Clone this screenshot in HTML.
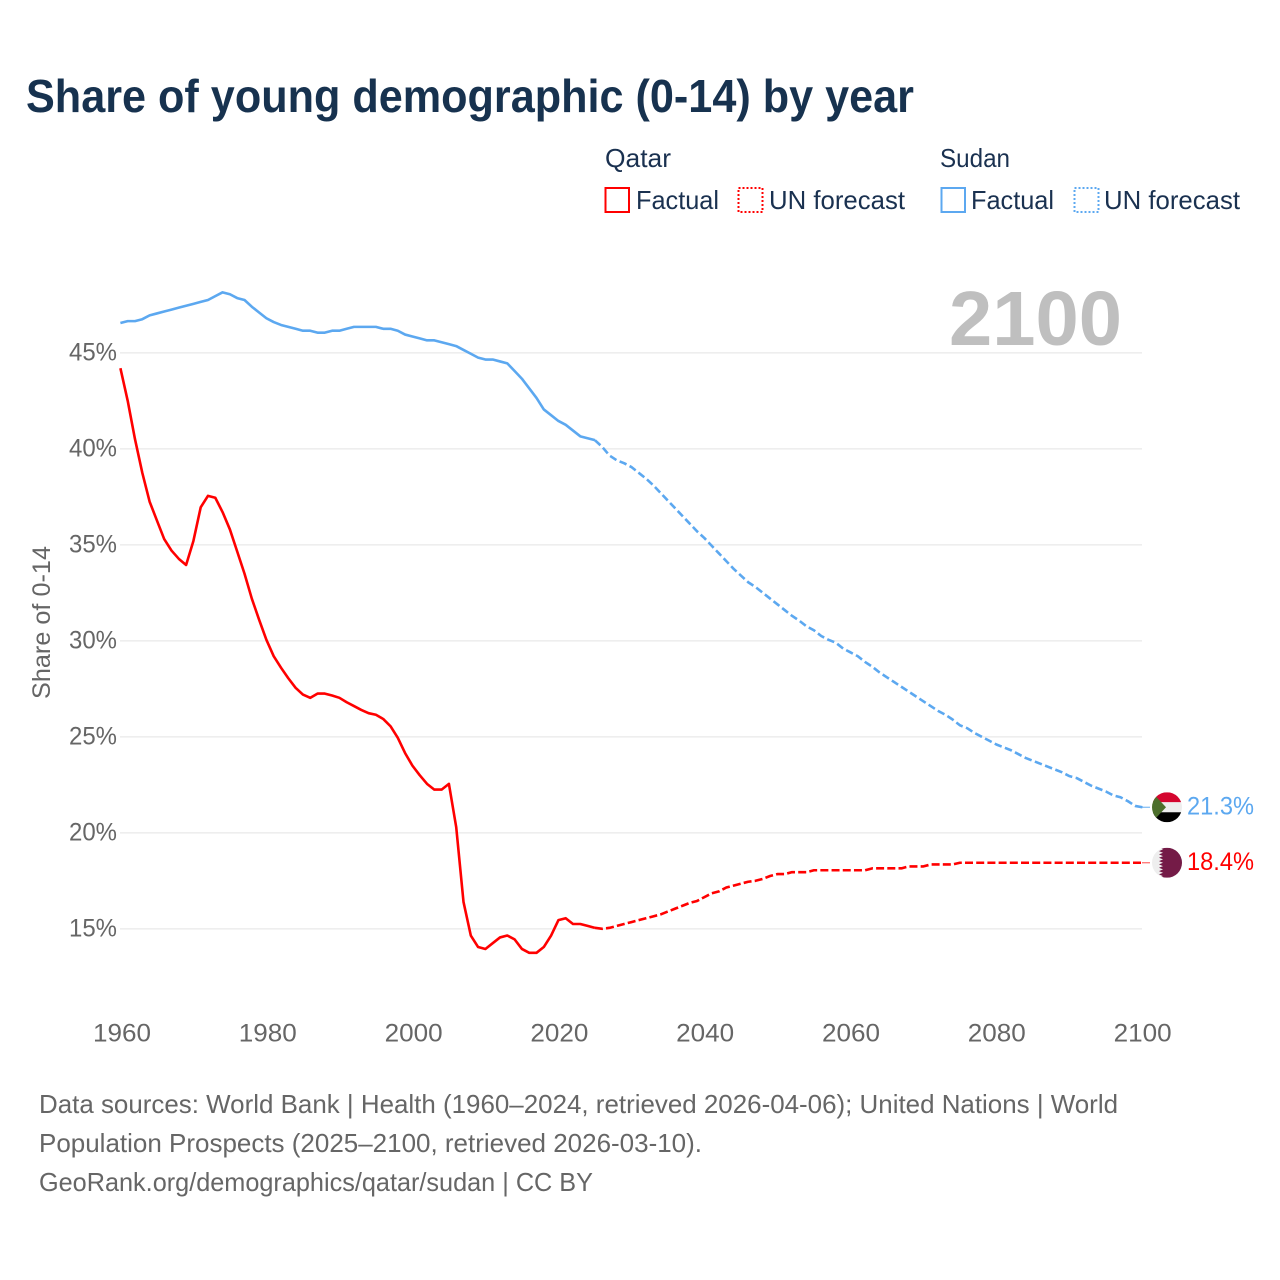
<!DOCTYPE html>
<html lang="en">
<head>
<meta charset="utf-8">
<title>Share of young demographic (0-14) by year</title>
<style>
html,body{margin:0;padding:0;background:#fff;}
svg{display:block;font-family:"Liberation Sans",sans-serif;}
</style>
</head>
<body>
<svg id="chart" xmlns="http://www.w3.org/2000/svg" width="1280" height="1280" viewBox="0 0 1280 1280">
  <defs>
    <clipPath id="flag-clip"><circle cx="0" cy="0" r="15"></circle></clipPath>
  </defs>
  <rect x="0" y="0" width="1280" height="1280" fill="#fff"></rect>
  <text x="26" y="112" font-size="46" font-weight="700" fill="#17324f" textLength="888" lengthAdjust="spacingAndGlyphs">Share of young demographic (0-14) by year</text>

  <g font-size="26" fill="#1a3150">
    <text x="605" y="167" textLength="66" lengthAdjust="spacingAndGlyphs">Qatar</text>
    <rect x="605.5" y="188" width="23.5" height="24" fill="none" stroke="#ff0000" stroke-width="2"></rect>
    <text x="636" y="209" textLength="83" lengthAdjust="spacingAndGlyphs">Factual</text>
    <rect x="738.5" y="188" width="24" height="24" fill="none" stroke="#ff0000" stroke-width="2" stroke-dasharray="2 2"></rect>
    <text x="769" y="209" textLength="136" lengthAdjust="spacingAndGlyphs">UN forecast</text>
    <text x="940" y="167" textLength="70" lengthAdjust="spacingAndGlyphs">Sudan</text>
    <rect x="941.5" y="188" width="23.5" height="24" fill="none" stroke="#5ca8f0" stroke-width="2"></rect>
    <text x="971" y="209" textLength="83" lengthAdjust="spacingAndGlyphs">Factual</text>
    <rect x="1074.5" y="188" width="24" height="24" fill="none" stroke="#5ca8f0" stroke-width="2" stroke-dasharray="2 2"></rect>
    <text x="1104" y="209" textLength="136" lengthAdjust="spacingAndGlyphs">UN forecast</text>
  </g>

  <g id="grid"></g>
  <g id="y-ticks"></g>
  <g id="x-ticks"></g>

  <text x="0" y="0" transform="translate(50,699) rotate(-90)" font-size="25" fill="#666" textLength="153" lengthAdjust="spacingAndGlyphs">Share of 0-14</text>

  <text x="949" y="345" font-size="77" font-weight="700" fill="#bfbfbf" textLength="173" lengthAdjust="spacingAndGlyphs">2100</text>

  <g id="series"></g>
  <g id="endpoints"></g>

  <g font-size="26" fill="#666">
    <text x="39" y="1113" textLength="1079" lengthAdjust="spacingAndGlyphs">Data sources: World Bank | Health (1960–2024, retrieved 2026-04-06); United Nations | World</text>
    <text x="39" y="1152" textLength="663" lengthAdjust="spacingAndGlyphs">Population Prospects (2025–2100, retrieved 2026-03-10).</text>
    <text x="39" y="1191" textLength="554" lengthAdjust="spacingAndGlyphs">GeoRank.org/demographics/qatar/sudan | CC BY</text>
  </g>
</svg>
<script>
const yTicks = [15, 20, 25, 30, 35, 40, 45];
const xTicks = [1960, 1980, 2000, 2020, 2040, 2060, 2080, 2100];
const factualStartYear = 1960;
const forecastStartYear = 2025;

const qatarFactual = [44.2,42.5,40.5,38.75,37.25,36.27,35.3,34.7,34.27,33.95,35.2,36.95,37.55,37.45,36.7,35.8,34.65,33.5,32.2,31.1,30.05,29.2,28.6,28.05,27.55,27.2,27.03,27.25,27.25,27.15,27.03,26.8,26.6,26.4,26.23,26.15,25.93,25.55,24.95,24.15,23.5,23.0,22.55,22.25,22.25,22.55,20.3,16.4,14.65,14.05,13.95,14.25,14.55,14.65,14.45,13.95,13.75,13.75,14.05,14.65,15.45,15.55,15.25,15.25,15.15,15.05];
const qatarForecast = [15.05,15.0,15.05,15.15,15.25,15.35,15.45,15.55,15.65,15.75,15.9,16.05,16.2,16.35,16.45,16.65,16.85,16.95,17.15,17.25,17.35,17.45,17.5,17.6,17.75,17.85,17.85,17.95,17.95,17.95,18.05,18.05,18.05,18.05,18.05,18.05,18.05,18.05,18.15,18.15,18.15,18.15,18.15,18.25,18.25,18.25,18.35,18.35,18.35,18.35,18.44,18.44,18.44,18.44,18.44,18.44,18.44,18.44,18.44,18.44,18.44,18.44,18.44,18.44,18.44,18.44,18.44,18.44,18.44,18.44,18.44,18.44,18.44,18.44,18.44,18.44];
const sudanFactual = [46.55,46.65,46.65,46.75,46.95,47.05,47.15,47.25,47.35,47.45,47.55,47.65,47.75,47.95,48.15,48.05,47.85,47.75,47.4,47.1,46.8,46.6,46.45,46.35,46.25,46.15,46.15,46.05,46.05,46.15,46.15,46.25,46.35,46.35,46.35,46.35,46.25,46.25,46.15,45.95,45.85,45.75,45.65,45.65,45.55,45.45,45.35,45.15,44.95,44.75,44.65,44.65,44.55,44.45,44.05,43.65,43.15,42.65,42.05,41.75,41.45,41.25,40.95,40.65,40.55,40.45];
const sudanForecast = [40.45,40.1,39.65,39.4,39.25,39.05,38.75,38.45,38.1,37.7,37.3,36.9,36.5,36.1,35.7,35.35,34.95,34.55,34.15,33.75,33.4,33.05,32.8,32.5,32.2,31.9,31.6,31.3,31.05,30.75,30.55,30.25,30.05,29.9,29.6,29.4,29.2,28.9,28.65,28.35,28.1,27.85,27.6,27.35,27.1,26.85,26.6,26.35,26.15,25.9,25.6,25.45,25.2,25.0,24.8,24.6,24.45,24.3,24.1,23.9,23.75,23.6,23.45,23.3,23.15,22.95,22.85,22.65,22.45,22.3,22.15,21.95,21.85,21.65,21.4,21.33];

const NS = 'http://www.w3.org/2000/svg';
const RED = '#ff0000';
const BLUE = '#5ca8f0';

function xScale(year) { return 120.4 + (year - 1960) * 7.3; }
function yScale(value) { return 928.8 - (value - 15) * 19.2; }

function make(tag, attrs, parent) {
  const el = document.createElementNS(NS, tag);
  for (const k in attrs) el.setAttribute(k, attrs[k]);
  parent.appendChild(el);
  return el;
}
function linePath(values, startYear) {
  return values.map(function (v, i) {
    return (i ? 'L' : 'M') + xScale(startYear + i).toFixed(2) + ' ' + yScale(v).toFixed(2);
  }).join('');
}

const gridG = document.getElementById('grid');
const yG = document.getElementById('y-ticks');
yTicks.forEach(function (t) {
  const line = make('line', {x1: 120, x2: 1142, y1: yScale(t), y2: yScale(t), stroke: '#eeeeee', 'stroke-width': 1.6}, gridG);
  
  
  const label = make('text', {x: 117, y: yScale(t) + 7.5, 'text-anchor': 'end', 'font-size': 25, fill: '#666', textLength: 48, lengthAdjust: 'spacingAndGlyphs'}, yG);
  
  
  label.textContent = t + '%';
});

const xG = document.getElementById('x-ticks');
xTicks.forEach(function (t) {
  const label = make('text', {x: xScale(t) + 1.6 - (t - 1960) * 0.01, y: 1041.5, 'text-anchor': 'middle', 'font-size': 25, fill: '#666', textLength: 58, lengthAdjust: 'spacingAndGlyphs'}, xG);
  
  
  label.textContent = t;
});

const seriesG = document.getElementById('series');
const qf = make('path', {d: linePath(qatarFactual, factualStartYear), fill: 'none', stroke: RED, 'stroke-width': 2.6, 'stroke-linejoin': 'round'}, seriesG);


const qp = make('path', {d: linePath(qatarForecast, forecastStartYear), fill: 'none', stroke: RED, 'stroke-width': 2.6, 'stroke-dasharray': '8 3.2', 'stroke-linejoin': 'round'}, seriesG);


const sf = make('path', {d: linePath(sudanFactual, factualStartYear), fill: 'none', stroke: BLUE, 'stroke-width': 2.6, 'stroke-linejoin': 'round'}, seriesG);


const sp = make('path', {d: linePath(sudanForecast, forecastStartYear), fill: 'none', stroke: BLUE, 'stroke-width': 2.6, 'stroke-dasharray': '7.5 3.5', 'stroke-linejoin': 'round'}, seriesG);



const endG = document.getElementById('endpoints');
const sudanEnd = sudanForecast[sudanForecast.length - 1];
const qatarEnd = qatarForecast[qatarForecast.length - 1];

const sudanLead = make('line', {x1: 1142, x2: 1150, y1: yScale(sudanEnd), y2: yScale(sudanEnd), stroke: BLUE, 'stroke-width': 1.2, opacity: 0.8}, endG);


const qatarLead = make('line', {x1: 1142, x2: 1150, y1: yScale(qatarEnd), y2: yScale(qatarEnd), stroke: RED, 'stroke-width': 1.2, opacity: 0.6}, endG);



/* Sudan flag */
const sudanFlag = make('g', {transform: 'translate(1167,' + yScale(sudanEnd) + ')', 'clip-path': 'url(#flag-clip)'}, endG);


make('rect', {x: -15, y: -15, width: 30, height: 10, fill: '#d4062f'}, sudanFlag);
make('rect', {x: -15, y: -5, width: 30, height: 10, fill: '#eeeeee'}, sudanFlag);
make('rect', {x: -15, y: 5, width: 30, height: 10, fill: '#000000'}, sudanFlag);
make('polygon', {points: '-15,-15 -1,0 -15,15', fill: '#4d6f2c'}, sudanFlag);

/* Qatar flag */
const qatarFlag = make('g', {transform: 'translate(1167,' + yScale(qatarEnd) + ')', 'clip-path': 'url(#flag-clip)'}, endG);


make('rect', {x: -15, y: -15, width: 30, height: 30, fill: '#eeeeee'}, qatarFlag);
let teeth = '15,-15 -8,-15';
for (let i = 0; i < 9; i++) {
  teeth += ' -4,' + (-15 + (i + 0.5) * 30 / 9) + ' -8,' + (-15 + (i + 1) * 30 / 9);
}
teeth += ' 15,15';
make('polygon', {points: teeth, fill: '#741b47'}, qatarFlag);

const sudanLabel = make('text', {x: 1187, y: yScale(sudanEnd) + 7, 'font-size': 25, fill: BLUE, textLength: 67, lengthAdjust: 'spacingAndGlyphs'}, endG);


sudanLabel.textContent = sudanEnd.toFixed(1) + '%';

const qatarLabel = make('text', {x: 1187, y: yScale(qatarEnd) + 7, 'font-size': 25, fill: RED, textLength: 67, lengthAdjust: 'spacingAndGlyphs'}, endG);


qatarLabel.textContent = qatarEnd.toFixed(1) + '%';
</script>
</body>
</html>
